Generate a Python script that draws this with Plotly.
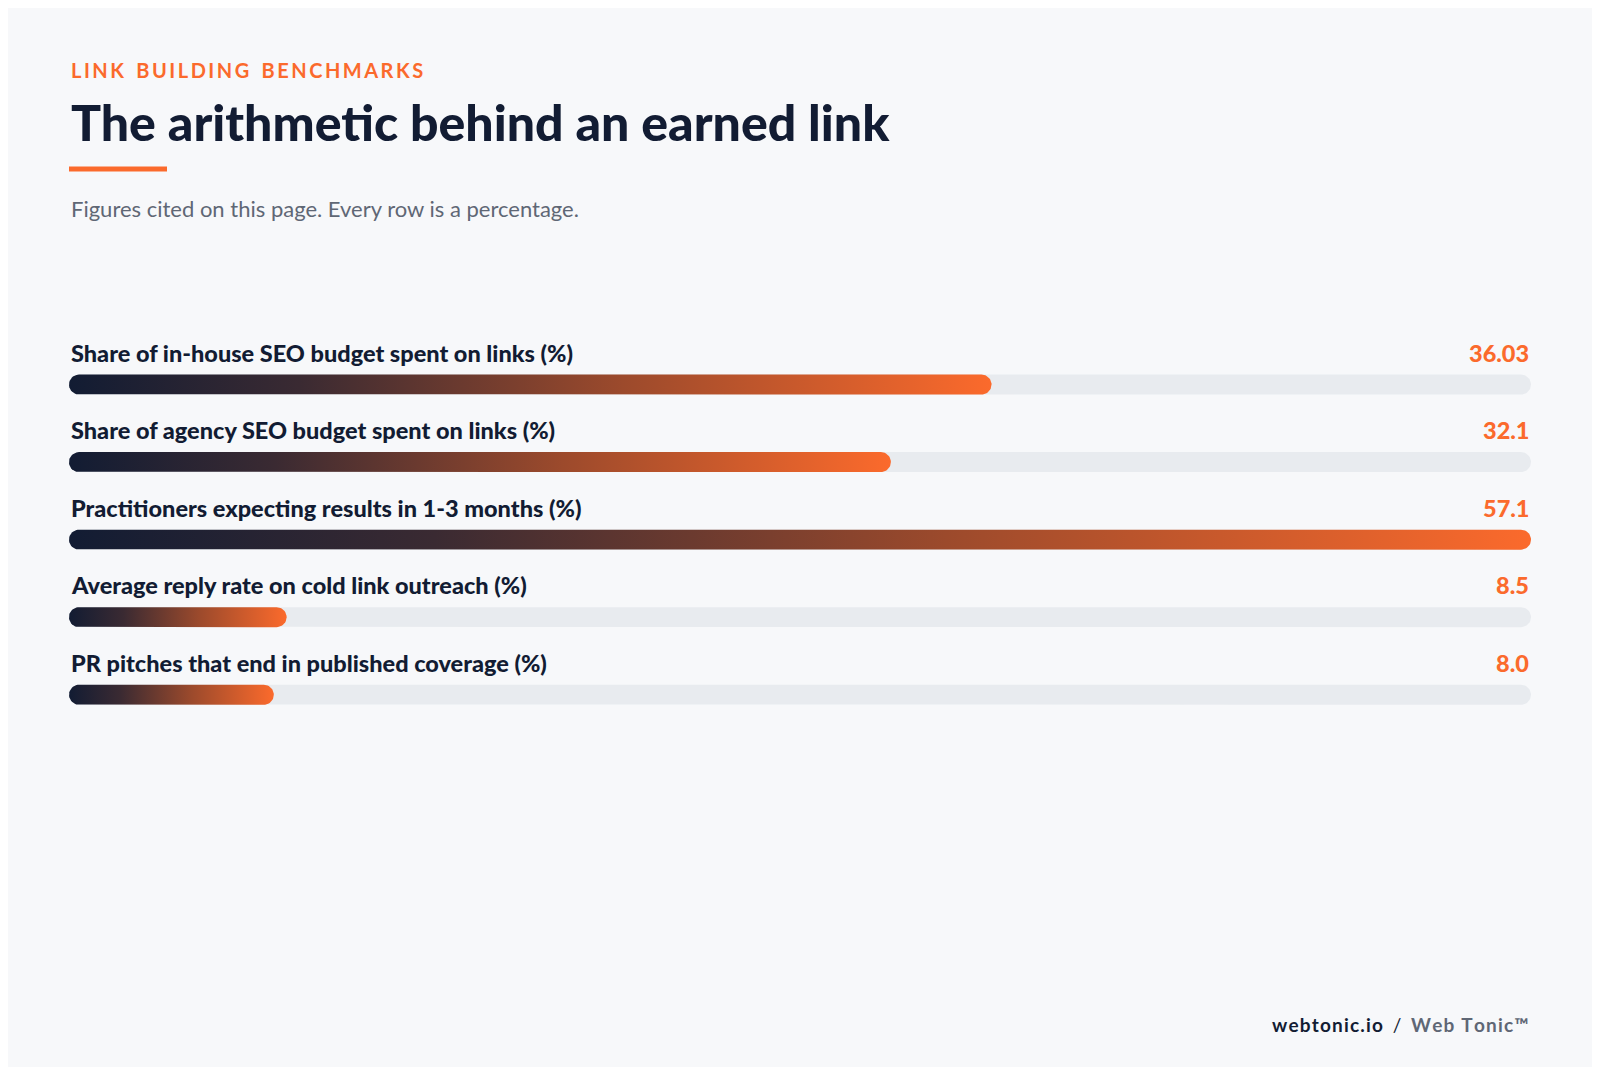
import numpy as np
import plotly.graph_objects as go

labels = [
    "Share of in-house SEO budget spent on links (%)",
    "Share of agency SEO budget spent on links (%)",
    "Practitioners expecting results in 1-3 months (%)",
    "Average reply rate on cold link outreach (%)",
    "PR pitches that end in published coverage (%)",
]
values = [36.03, 32.1, 57.1, 8.5, 8.0]
value_text = ["36.03", "32.1", "57.1", "8.5", "8.0"]

NAVY = "#121c33"
ORANGE = "#fb6a2c"
TRACK = "#e8ebef"

W, H = 1600, 1067
L, R, T, B = 61, 77, 299, 326
xmax = max(values)
yrange = [4.7, -1.0]
px_x = xmax / (W - L - R)
px_y = (yrange[0] - yrange[1]) / (H - T - B)
half_h = 10 * px_y
rad_x = 10 * px_x


def pill(x1, yc):
    # rounded-end bar outline from 0 to x1 in data units
    t = np.linspace(-np.pi / 2, np.pi / 2, 25)
    tr = t[::-1]
    rx = np.concatenate([x1 - rad_x + rad_x * np.cos(t), rad_x - rad_x * np.cos(tr)])
    ry = np.concatenate([yc + half_h * np.sin(t), yc + half_h * np.sin(tr)])
    return np.append(rx, rx[0]), np.append(ry, ry[0])


def spaced(s):
    return "\u200a".join(s)


fig = go.Figure()
for i, v in enumerate(values):
    tx, ty = pill(xmax, i)
    fig.add_trace(go.Scatter(x=tx, y=ty, fill="toself", fillcolor=TRACK, mode="lines",
                             line=dict(width=0), hoverinfo="skip", showlegend=False))
    bx, by = pill(v, i)
    fig.add_trace(go.Scatter(
        x=bx, y=by, fill="toself", mode="lines", line=dict(width=0), showlegend=False,
        fillgradient=dict(type="horizontal", start=0, stop=v,
                          colorscale=[[0, NAVY], [0.25, "#3a2a32"], [0.6, "#9c4a2c"], [1, ORANGE]]),
        hoverinfo="skip"))
    fig.add_annotation(x=0, y=i - 0.41, text=labels[i], xanchor="left", yanchor="middle",
                       showarrow=False, font=dict(family="Lato", size=23.5, color=NAVY, weight=900))
    fig.add_annotation(x=xmax, y=i - 0.41, text=value_text[i], xanchor="right", yanchor="middle",
                       showarrow=False, font=dict(family="Lato", size=23.5, color=ORANGE, weight=900))

kicker = "\u2009".join("LINK BUILDING BENCHMARKS").replace("\u2009 \u2009", "\u2009\u2009 \u2009")
fig.add_annotation(xref="paper", yref="paper", x=0, y=0, text=kicker,
                   xanchor="left", yanchor="middle", showarrow=False,
                   font=dict(family="Lato", size=20, color=ORANGE, weight="bold"))
fig.add_annotation(xref="paper", yref="paper", x=0, y=0, text="The arithmetic behind an earned link",
                   xanchor="left", yanchor="middle", showarrow=False,
                   font=dict(family="Lato", size=50, color=NAVY, weight=900))
fig.add_annotation(xref="paper", yref="paper", x=0, y=0, text="Figures cited on this page. Every row is a percentage.",
                   xanchor="left", yanchor="middle", showarrow=False,
                   font=dict(family="Lato", size=22, color="#5f6775"))
fig.add_annotation(xref="paper", yref="paper", x=1, y=0,
                   text="<b>" + spaced("webtonic.io") + "</b>  /  <span style='color:#5f6775'><b>"
                        + spaced("Web Tonic™") + "</b></span>",
                   xanchor="right", yanchor="middle", showarrow=False,
                   font=dict(family="Lato", size=19, color=NAVY))

# place header/footer annotations by pixel position
pix = [62, 114, 201, 1016]
for ann, py in zip(fig.layout.annotations[-4:], pix):
    ann.y = 1 - (py - T) / (H - T - B)

fig.add_shape(type="line", xref="paper", yref="paper", x0=0, x1=98 / (W - L - R),
              y0=1 - (161 - T) / (H - T - B), y1=1 - (161 - T) / (H - T - B),
              line=dict(color=ORANGE, width=5))

fig.update_layout(
    width=W, height=H, margin=dict(l=L, r=R, t=T, b=B),
    paper_bgcolor="#f7f8fa", plot_bgcolor="#f7f8fa",
    xaxis=dict(range=[0, xmax], visible=False, fixedrange=True),
    yaxis=dict(range=yrange, visible=False, fixedrange=True),
)
fig.write_html("out.html")
